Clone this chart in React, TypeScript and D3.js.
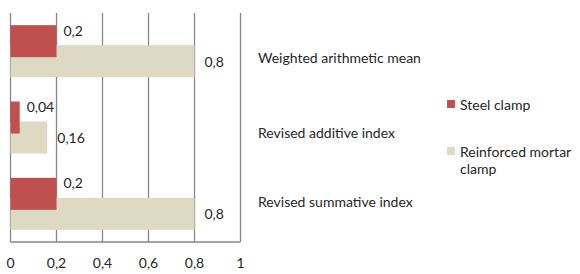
import React from "react";
import * as d3 from "d3";

const categories = ["Weighted arithmetic mean", "Revised additive index", "Revised summative index"];
const steelClamp = [0.2, 0.04, 0.2];
const mortarClamp = [0.8, 0.16, 0.8];
const steelLabels = ["0,2", "0,04", "0,2"];
const mortarLabels = ["0,8", "0,16", "0,8"];
const ticks = [0, 0.2, 0.4, 0.6, 0.8, 1];
const tickLabels = ["0", "0,2", "0,4", "0,6", "0,8", "1"];
const seriesNames = ["Steel clamp", "Reinforced mortar clamp"];

const RED = "#C0504D";
const BEIGE = "#DDD9C3";
const GRID = "#868686";
const TEXT = "#262626";
const FONT = "Lato, 'Open Sans', sans-serif";

export default function App() {
  const x = d3.scaleLinear().domain([0, 1]).range([10.5, 240.5]);
  const y = d3.scaleBand<string>().domain(categories).range([13, 242]);
  const barH = 32;
  const offset = 20;
  const fs = 14;
  const catDy = [6, 4.5, -2];

  return (
    <svg width={580} height={274} style={{ position: "absolute", left: 0, top: 0, background: "#fff" }}
      fontFamily={FONT}>
      {ticks.map((t, i) => (
        <line key={"g" + i} x1={x(t)} x2={x(t)} y1={13} y2={242} stroke={GRID} strokeWidth={1.3} />
      ))}
      <line x1={x(0)} x2={x(1)} y1={242} y2={242} stroke={GRID} strokeWidth={1.3} />
      {categories.map((c, i) => {
        const cy = (y(c) as number) + y.bandwidth() / 2;
        const top = cy - (barH + offset) / 2;
        return (
          <g key={c}>
            <rect x={x(0)} y={top + offset} width={x(mortarClamp[i]) - x(0)} height={barH} fill={BEIGE} />
            <rect x={x(0)} y={top} width={x(steelClamp[i]) - x(0)} height={barH} fill={RED} />
            <text x={x(steelClamp[i]) + 7} y={top + 5} dominantBaseline="central" fontSize={fs} fill={TEXT}>{steelLabels[i]}</text>
            <text x={x(mortarClamp[i]) + 10} y={top + offset + barH / 2} dominantBaseline="central" fontSize={fs} fill={TEXT}>{mortarLabels[i]}</text>
            <text x={258} y={cy + catDy[i]} dominantBaseline="central" fontSize={fs} fill={TEXT}>{c}</text>
          </g>
        );
      })}
      {ticks.map((t, i) => (
        <text key={"t" + i} x={x(t)} y={262.5} textAnchor="middle" dominantBaseline="central" fontSize={fs} fill={TEXT}>{tickLabels[i]}</text>
      ))}
      <rect x={447} y={100} width={8} height={8} fill={RED} />
      <text x={460} y={104} dominantBaseline="central" fontSize={fs} fill={TEXT}>{seriesNames[0]}</text>
      <rect x={447} y={147} width={8} height={8} fill={BEIGE} />
      <text x={460} y={151} dominantBaseline="central" fontSize={fs} fill={TEXT}>Reinforced mortar</text>
      <text x={460} y={168} dominantBaseline="central" fontSize={fs} fill={TEXT}>clamp</text>
    </svg>
  );
}
